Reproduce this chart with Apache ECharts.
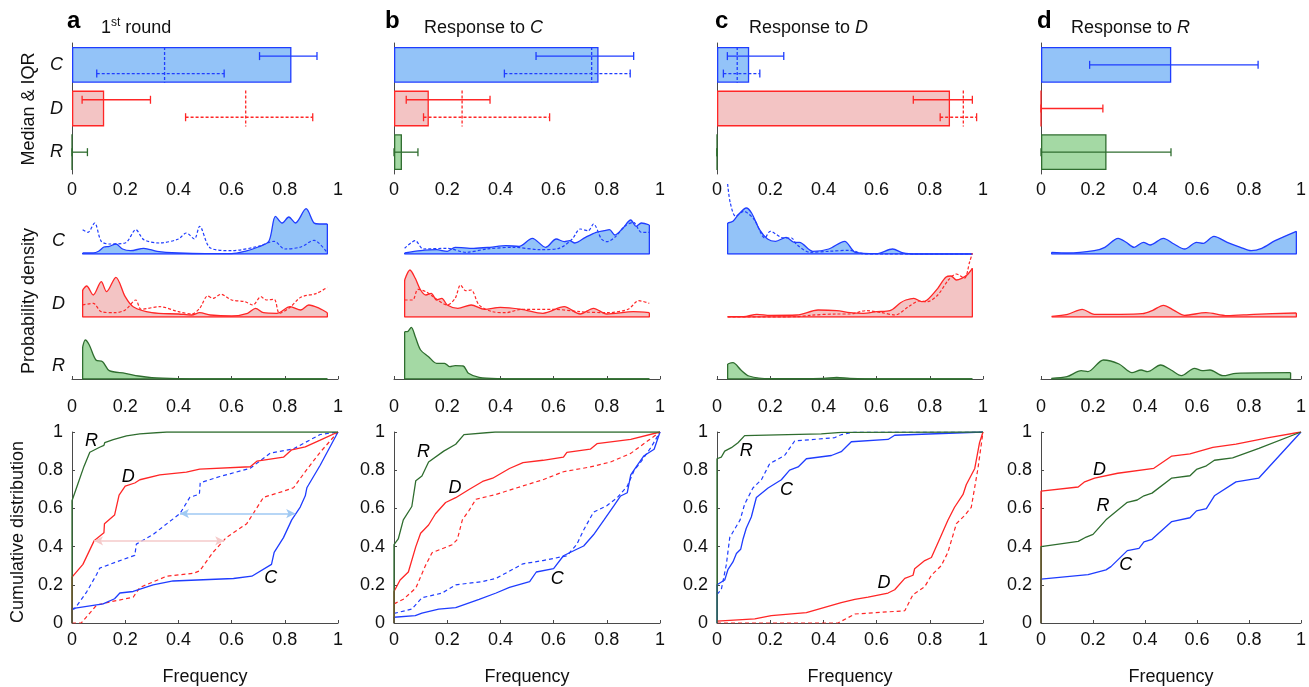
<!DOCTYPE html>
<html>
<head>
<meta charset="utf-8">
<script src="https://cdn.jsdelivr.net/npm/echarts@6/dist/echarts.min.js"></script>
<style>
html, body { margin: 0; padding: 0; background: #fff; }
#chart { width: 1309px; height: 687px; }
</style>
</head>
<body>
<div id="chart"></div>
<script>
// categories & colours
const cats = ['C', 'D', 'R']
const panelLetters = ['a', 'b', 'c', 'd']
const panelTitles = ['{n|1}{s|st}{n| round}', '{n|Response to }{i|C}', '{n|Response to }{i|D}', '{n|Response to }{i|R}']
const lineColors = ['#1f3dff', '#ff2626', '#2f6d2f']
const fillColors = ['#93c3f8', '#f3c4c4', '#a4d9a4']

// row 1: median & IQR (one inner array per panel, order C, D, R)
const medianSolid = [[0.825, 0.121, 0], [0.769, 0.131, 0.03], [0.121, 0.876, 0], [0.501, 0, 0.252]]
const iqrSolid = [
    [[0.705, 0.921], [0.038, 0.295], [0, 0.058]],
    [[0.534, 0.901], [0.046, 0.361], [0, 0.09]],
    [[0.039, 0.251], [0.738, 0.96], [0, 0]],
    [[0.187, 0.835], [0, 0.238], [0, 0.5]],
]
const medianDashed = [[0.348, 0.653, null], [0.743, 0.256, null], [0.076, 0.926, null], [null, null, null]]
const iqrDashed = [
    [[0.093, 0.572], [0.427, 0.905], null],
    [[0.415, 0.888], [0.111, 0.585], null],
    [[0.024, 0.161], [0.839, 0.976], null],
    [null, null, null],
]

// row 2: probability density [frequency, density]
const dA_C = [[0.04,1],[0.08,1],[0.1,2.7],[0.12,7],[0.14,7.7],[0.165,10],[0.19,5],[0.22,3.3],[0.27,5.7],[0.32,2.7],[0.4,1],[0.5,0.3],[0.6,0.3],[0.65,2.7],[0.7,7],[0.74,12.7],[0.765,37.7],[0.79,31],[0.815,37],[0.84,31],[0.88,45.3],[0.91,31],[0.93,30],[0.96,30]]
const dA_Cd = [[0.04,24.3],[0.06,21.7],[0.085,31],[0.11,12.7],[0.14,10],[0.2,11],[0.24,24.3],[0.27,14.3],[0.33,11],[0.4,15],[0.43,21],[0.46,15],[0.48,27.7],[0.52,6],[0.6,3.3],[0.7,7.7],[0.76,12.7],[0.8,5],[0.86,7],[0.91,13.7],[0.96,1]]
const dA_D = [[0.04,27],[0.055,31],[0.08,22],[0.11,35.3],[0.13,25.3],[0.165,39.7],[0.2,20.3],[0.23,10.3],[0.3,4.3],[0.4,3],[0.45,2],[0.48,4.3],[0.52,2],[0.6,1],[0.66,3.7],[0.69,8.7],[0.72,4.3],[0.77,3.7],[0.82,10.3],[0.86,7],[0.89,12],[0.93,8.7],[0.96,4.3]]
const dA_Dd = [[0.04,12],[0.08,13.7],[0.11,5.3],[0.16,4.3],[0.2,7],[0.24,17],[0.26,7.7],[0.33,10.3],[0.4,5.3],[0.45,3],[0.48,8.7],[0.51,21],[0.53,18.7],[0.56,22.7],[0.6,17],[0.65,15.3],[0.68,12],[0.71,20.3],[0.73,17],[0.76,17.7],[0.78,3.7],[0.82,9.7],[0.86,19.7],[0.92,23.7],[0.96,29.7]]
const dA_R = [[0.04,32],[0.05,39],[0.065,34],[0.09,19],[0.115,17.3],[0.14,8.3],[0.2,5.7],[0.25,3],[0.3,1.3],[0.4,0.3],[0.5,0],[0.96,0]]

const dB_C = [[0.04,1],[0.1,3.3],[0.16,4.3],[0.2,2.7],[0.23,6.7],[0.3,5.7],[0.36,6.7],[0.42,8.3],[0.47,7.7],[0.52,15.7],[0.57,6.7],[0.61,15],[0.64,12.3],[0.66,13.3],[0.68,11],[0.72,16.7],[0.76,21.7],[0.79,23.3],[0.81,24.3],[0.83,19],[0.86,25.7],[0.89,34],[0.91,27.7],[0.93,31],[0.96,29]]
const dB_Cd = [[0.04,5.7],[0.08,13.3],[0.11,5],[0.2,5.7],[0.27,1.7],[0.35,5],[0.45,6.7],[0.55,4.3],[0.62,5.7],[0.67,15],[0.7,25],[0.73,23.3],[0.75,30],[0.78,15],[0.8,12.3],[0.83,16.7],[0.87,28.3],[0.9,31.7],[0.93,21.7],[0.96,21.7]]
const dB_D = [[0.04,37],[0.06,47],[0.08,38.7],[0.1,27],[0.12,22],[0.14,23.7],[0.16,17],[0.18,18.7],[0.2,12],[0.24,8.7],[0.29,12],[0.34,7.7],[0.4,9.7],[0.48,7.7],[0.56,3.7],[0.64,10.3],[0.7,3],[0.75,8.7],[0.8,3],[0.9,5.3],[0.96,4.3]]
const dB_Dd = [[0.04,17],[0.07,17],[0.09,27.7],[0.12,25.3],[0.15,19.7],[0.2,12],[0.23,18.7],[0.25,32],[0.27,26.3],[0.29,27],[0.32,12],[0.37,5.3],[0.42,4.3],[0.48,7.7],[0.6,7.7],[0.7,5.3],[0.8,4.3],[0.88,7.7],[0.92,16.3],[0.96,13.7]]
const dB_R = [[0.04,47.3],[0.05,47.3],[0.065,51.7],[0.08,42.3],[0.1,29],[0.13,22.3],[0.16,15.7],[0.19,15.7],[0.21,12.3],[0.23,13.3],[0.26,13],[0.28,5.7],[0.32,1.7],[0.4,0.3],[0.5,0],[0.96,0]]

const dC_C = [[0.04,31],[0.06,32.7],[0.08,39.3],[0.11,46],[0.13,41],[0.16,24.3],[0.19,15],[0.22,12.7],[0.26,16.7],[0.29,11.7],[0.31,11.7],[0.36,2.7],[0.42,5],[0.48,12.7],[0.52,1.7],[0.6,0.3],[0.66,5],[0.7,1],[0.75,0],[0.96,0]]
const dC_Cd = [[0.04,70],[0.05,51],[0.07,37.7],[0.1,42.7],[0.14,34.3],[0.18,16],[0.2,22.7],[0.25,16],[0.28,16],[0.3,9.3],[0.35,1.7],[0.42,2.7],[0.5,3.7],[0.55,0.3],[0.6,0],[0.96,0]]
const dC_D = [[0.04,0.3],[0.1,0.3],[0.15,2.7],[0.2,1.7],[0.3,2],[0.38,7],[0.45,6.3],[0.5,4.3],[0.55,3.7],[0.6,5.3],[0.65,6.3],[0.69,14.3],[0.71,17],[0.74,18.7],[0.77,15.3],[0.79,17],[0.83,28.7],[0.86,39.7],[0.88,41],[0.9,37],[0.92,38.7],[0.94,42],[0.96,48.7]]
const dC_Dd = [[0.04,0],[0.3,0.3],[0.35,1.7],[0.45,3],[0.5,3],[0.56,6.3],[0.62,4.3],[0.67,2],[0.72,10.3],[0.76,16],[0.79,15.3],[0.83,22],[0.87,37],[0.9,43],[0.93,38.7],[0.95,55.3],[0.96,63.7]]
const dC_R = [[0.04,15],[0.06,16.3],[0.09,9],[0.12,3],[0.2,0.3],[0.4,0.7],[0.45,1.7],[0.5,0.7],[0.6,0],[0.96,0]]

const dD_C = [[0.04,1.7],[0.1,1],[0.2,3.3],[0.24,6.7],[0.29,15.7],[0.32,11.7],[0.35,6.7],[0.385,11.7],[0.41,9],[0.46,15.7],[0.5,10],[0.54,5],[0.585,11.7],[0.61,10.7],[0.65,17.7],[0.7,11.7],[0.75,6.7],[0.79,3.3],[0.83,5.7],[0.88,13.3],[0.96,22.7]]
const dD_D = [[0.04,0.7],[0.1,2.7],[0.155,7.7],[0.2,2.7],[0.3,2.7],[0.38,3.3],[0.42,6.7],[0.46,11.7],[0.5,6.7],[0.54,1.7],[0.62,4.3],[0.7,1.3],[0.8,2.7],[0.96,4]]
const dD_R = [[0.04,0.7],[0.1,2.3],[0.155,8.3],[0.18,7.3],[0.24,19],[0.3,15],[0.35,6.3],[0.385,9],[0.41,7.3],[0.46,14],[0.5,9],[0.54,3.3],[0.59,10.7],[0.62,8.3],[0.65,9],[0.7,3.3],[0.75,5.7],[0.96,6.3]]

const densSolid = [[dA_C, dA_D, dA_R], [dB_C, dB_D, dB_R], [dC_C, dC_D, dC_R], [dD_C, dD_D, dD_R]]
const densDashed = [[dA_Cd, dA_Dd, null], [dB_Cd, dB_Dd, null], [dC_Cd, dC_Dd, null], [null, null, null]]

// row 3: cumulative distribution [frequency, F]
const cA_C = [[0,0],[0,0.075],[0.117,0.1],[0.16,0.127],[0.18,0.157],[0.23,0.165],[0.305,0.2],[0.38,0.22],[0.607,0.233],[0.676,0.245],[0.75,0.307],[0.76,0.37],[0.795,0.447],[0.826,0.54],[0.858,0.607],[0.877,0.666],[0.883,0.708],[0.933,0.826],[1,1]]
const cA_Cd = [[0,0.07],[0.01,0.075],[0.054,0.16],[0.092,0.253],[0.104,0.287],[0.167,0.32],[0.236,0.354],[0.242,0.413],[0.305,0.464],[0.406,0.573],[0.443,0.658],[0.479,0.675],[0.482,0.734],[0.556,0.767],[0.67,0.81],[0.745,0.889],[0.833,0.912],[0.933,0.987],[1,1]]
const cA_D = [[0,0],[0,0.24],[0.041,0.307],[0.083,0.43],[0.12,0.472],[0.122,0.52],[0.16,0.565],[0.177,0.67],[0.2,0.717],[0.236,0.733],[0.255,0.75],[0.33,0.775],[0.43,0.79],[0.48,0.806],[0.67,0.818],[0.695,0.847],[0.795,0.868],[0.826,0.907],[0.877,0.922],[0.933,0.957],[1,1]]
const cA_Dd = [[0,0],[0.035,0],[0.092,0.093],[0.142,0.11],[0.23,0.135],[0.255,0.186],[0.356,0.245],[0.456,0.26],[0.48,0.273],[0.53,0.37],[0.58,0.447],[0.657,0.52],[0.72,0.658],[0.795,0.69],[0.833,0.708],[0.877,0.793],[0.933,0.894],[1,1]]
const cA_R = [[0,0],[0,0.64],[0.02,0.72],[0.045,0.82],[0.067,0.894],[0.104,0.92],[0.12,0.93],[0.123,0.944],[0.155,0.96],[0.205,0.98],[0.255,0.99],[0.356,1],[1,1]]

const cB_C = [[0,0],[0,0.03],[0.08,0.039],[0.105,0.052],[0.168,0.073],[0.232,0.081],[0.32,0.124],[0.384,0.157],[0.434,0.186],[0.51,0.217],[0.535,0.267],[0.6,0.285],[0.637,0.352],[0.687,0.386],[0.713,0.403],[0.75,0.462],[0.789,0.538],[0.827,0.614],[0.852,0.665],[0.877,0.682],[0.89,0.775],[0.915,0.826],[0.94,0.876],[0.978,0.91],[1,1]]
const cB_Cd = [[0,0.05],[0.067,0.073],[0.105,0.132],[0.181,0.157],[0.232,0.2],[0.333,0.217],[0.384,0.234],[0.485,0.31],[0.56,0.327],[0.65,0.352],[0.687,0.411],[0.713,0.487],[0.75,0.58],[0.8,0.614],[0.839,0.656],[0.877,0.716],[0.903,0.8],[0.928,0.843],[0.966,0.919],[1,1]]
const cB_D = [[0,0],[0,0.165],[0.023,0.225],[0.054,0.267],[0.082,0.4],[0.1,0.47],[0.13,0.513],[0.156,0.572],[0.194,0.631],[0.232,0.656],[0.282,0.699],[0.333,0.741],[0.371,0.758],[0.434,0.809],[0.485,0.84],[0.56,0.852],[0.637,0.868],[0.65,0.893],[0.738,0.91],[0.763,0.939],[0.89,0.961],[1,1]]
const cB_Dd = [[0,0.1],[0.035,0.124],[0.082,0.183],[0.118,0.3],[0.143,0.368],[0.219,0.41],[0.238,0.437],[0.257,0.54],[0.282,0.589],[0.308,0.648],[0.384,0.673],[0.46,0.707],[0.56,0.75],[0.637,0.792],[0.738,0.817],[0.814,0.843],[0.89,0.888],[0.953,0.953],[1,1]]
const cB_R = [[0,0],[0,0.41],[0.016,0.44],[0.035,0.54],[0.067,0.61],[0.082,0.745],[0.105,0.77],[0.13,0.843],[0.187,0.9],[0.232,0.936],[0.263,0.986],[0.38,1],[1,1]]

const cC_C = [[0,0],[0,0.2],[0.029,0.225],[0.041,0.279],[0.06,0.32],[0.073,0.364],[0.089,0.386],[0.098,0.44],[0.11,0.496],[0.129,0.555],[0.148,0.657],[0.192,0.707],[0.242,0.75],[0.273,0.8],[0.305,0.817],[0.336,0.86],[0.43,0.877],[0.467,0.897],[0.505,0.949],[0.643,0.961],[0.668,0.983],[1,1]]
const cC_Cd = [[0,0.15],[0.016,0.174],[0.035,0.305],[0.048,0.448],[0.087,0.54],[0.104,0.623],[0.135,0.707],[0.167,0.75],[0.198,0.834],[0.254,0.877],[0.292,0.953],[0.442,0.97],[0.467,0.986],[0.518,1],[1,1]]
const cC_D = [[0,0.01],[0.142,0.022],[0.204,0.039],[0.336,0.054],[0.467,0.107],[0.518,0.124],[0.568,0.135],[0.643,0.157],[0.668,0.174],[0.706,0.234],[0.737,0.25],[0.743,0.284],[0.781,0.327],[0.806,0.343],[0.837,0.44],[0.868,0.538],[0.893,0.606],[0.925,0.673],[0.937,0.724],[0.969,0.809],[0.987,0.944],[1,1]]
const cC_Dd = [[0,0],[0.455,0],[0.518,0.047],[0.706,0.064],[0.737,0.149],[0.781,0.19],[0.806,0.25],[0.843,0.3],[0.868,0.37],[0.9,0.52],[0.931,0.563],[0.956,0.606],[0.981,0.809],[1,1]]
const cC_R = [[0,0],[0,0.86],[0.016,0.868],[0.029,0.9],[0.054,0.918],[0.079,0.944],[0.104,0.981],[0.267,0.986],[0.392,0.99],[0.467,0.998],[1,1]]

const cD_C = [[0,0],[0,0.23],[0.181,0.253],[0.25,0.278],[0.269,0.295],[0.332,0.379],[0.377,0.391],[0.396,0.425],[0.427,0.438],[0.503,0.531],[0.573,0.551],[0.598,0.587],[0.636,0.599],[0.667,0.666],[0.75,0.739],[0.838,0.759],[1,1]]
const cD_D = [[0,0],[0,0.69],[0.143,0.712],[0.168,0.739],[0.206,0.759],[0.295,0.784],[0.434,0.81],[0.503,0.874],[0.573,0.885],[0.661,0.919],[0.75,0.936],[0.876,0.97],[1,1]]
const cD_R = [[0,0],[0,0.4],[0.143,0.427],[0.174,0.45],[0.2,0.464],[0.25,0.54],[0.332,0.632],[0.37,0.644],[0.396,0.666],[0.427,0.68],[0.503,0.759],[0.573,0.771],[0.598,0.804],[0.636,0.823],[0.667,0.852],[0.737,0.865],[0.838,0.914],[1,1]]

const cdfSolid = [[cA_C, cA_D, cA_R], [cB_C, cB_D, cB_R], [cC_C, cC_D, cC_R], [cD_C, cD_D, cD_R]]
const cdfDashed = [[cA_Cd, cA_Dd, null], [cB_Cd, cB_Dd, null], [cC_Cd, cC_Dd, null], [null, null, null]]
// where the C / D / R names sit on each cdf panel
const cdfLabelPos = [
    [[0.747, 0.233], [0.211, 0.767], [0.073, 0.953]],
    [[0.614, 0.23], [0.229, 0.707], [0.111, 0.893]],
    [[0.261, 0.694], [0.628, 0.208], [0.11, 0.902]],
    [[0.326, 0.304], [0.225, 0.801], [0.238, 0.612]],
]
// shift arrows in panel a: [from, to, level]
const arrowsA = [[0.406, 0.839, 0.573], [0.083, 0.572, 0.43]]
const arrowColors = ['#9fc9f3', '#f5caca']

// layout
const font = 'Liberation Sans'
const colX = [72, 394, 717, 1041]
const colW = 266
const letterX = [67, 385, 715, 1037]
const titleX = [101, 424, 749, 1071]
const barTop = 43, barH = 131
const densBase = [254, 317, 379], densH = 50
const cdfTop = 432, cdfH = 198
const axisColor = '#4a4a4a'

const axisLine = { lineStyle: { color: axisColor, width: 1 } }
const axisTick = { inside: true, length: 3, lineStyle: { color: axisColor } }
const labelStyle = (margin) => ({ color: '#111', fontSize: 18, fontFamily: font, margin })

const grids = [], xAxes = [], yAxes = [], series = [], graphics = []
const addGrid = (left, top, height) => {
    grids.push({ left, top, width: colW, height })
    return grids.length - 1
}
const freqAxis = (g, extra) =>
    Object.assign(
        { gridIndex: g, type: 'value', min: 0, max: 1, interval: 0.2, axisLine, axisTick, splitLine: { show: false }, axisLabel: labelStyle(7) },
        extra
    )

// error bar drawing
const iqrRender = (dashed, paired) => (params, api) => {
    const i = api.value(1)
    const band = api.size([0, 1])[1]
    const shift = paired[i] ? (dashed ? 0.2 : -0.2) * band : 0
    const y = api.coord([0, i])[1] + shift
    const xa = api.coord([api.value(0), i])[0]
    const xb = api.coord([api.value(2), i])[0]
    const stroke = lineColors[i]
    return {
        type: 'group',
        children: [
            { type: 'line', shape: { x1: xa, y1: y, x2: xb, y2: y }, style: { stroke, lineWidth: 1.3, lineDash: dashed ? [3, 2] : null } },
            { type: 'line', shape: { x1: xa, y1: y - 4, x2: xa, y2: y + 4 }, style: { stroke, lineWidth: 1.3 } },
            { type: 'line', shape: { x1: xb, y1: y - 4, x2: xb, y2: y + 4 }, style: { stroke, lineWidth: 1.3 } },
        ],
    }
}
const medianRender = (params, api) => {
    const i = api.value(1)
    const band = api.size([0, 1])[1]
    const p = api.coord([api.value(0), i])
    return {
        type: 'line',
        shape: { x1: p[0], y1: p[1] - 0.41 * band, x2: p[0], y2: p[1] + 0.41 * band },
        style: { stroke: lineColors[i], lineWidth: 1.3, lineDash: [3, 2] },
    }
}

for (let p = 0; p < 4; p++) {
    // ---- median & IQR
    let g = addGrid(colX[p], barTop, barH)
    xAxes.push(freqAxis(g))
    yAxes.push({
        gridIndex: g, type: 'category', data: cats, inverse: true, axisLine, axisTick: { show: false },
        axisLabel: Object.assign(labelStyle(9), { show: p === 0, fontStyle: 'italic' }),
    })
    const paired = iqrDashed[p].map((d) => d !== null)
    series.push({
        type: 'bar', xAxisIndex: g, yAxisIndex: g, barCategoryGap: '18%', silent: true, z: 2,
        data: medianSolid[p].map((v, i) => ({ value: v, itemStyle: { color: fillColors[i], borderColor: lineColors[i], borderWidth: 1.3 } })),
    })
    series.push({
        type: 'custom', xAxisIndex: g, yAxisIndex: g, silent: true, z: 5, encode: { x: [0, 2], y: 1 },
        renderItem: iqrRender(false, paired), data: iqrSolid[p].map((r, i) => [r[0], i, r[1]]),
    })
    series.push({
        type: 'custom', xAxisIndex: g, yAxisIndex: g, silent: true, z: 5, encode: { x: [0, 2], y: 1 },
        renderItem: iqrRender(true, paired),
        data: iqrDashed[p].map((r, i) => (r ? [r[0], i, r[1]] : null)).filter((d) => d),
    })
    series.push({
        type: 'custom', xAxisIndex: g, yAxisIndex: g, silent: true, z: 5, encode: { x: 0, y: 1 },
        renderItem: medianRender,
        data: medianDashed[p].map((v, i) => (v !== null ? [v, i] : null)).filter((d) => d),
    })

    // ---- probability density tracks
    for (let k = 0; k < 3; k++) {
        g = addGrid(colX[p], densBase[k] - densH, densH)
        xAxes.push(freqAxis(g, { show: k === 2, offset: 11, axisLabel: labelStyle(8) }))
        yAxes.push({ gridIndex: g, type: 'value', min: 0, max: densH, show: false })
        const curve = densSolid[p][k]
        const first = curve[0], last = curve[curve.length - 1]
        series.push({
            type: 'line', xAxisIndex: g, yAxisIndex: g, data: curve, smooth: 0.3, symbol: 'none', clip: false, silent: true,
            lineStyle: { color: lineColors[k], width: 1.3 }, areaStyle: { color: fillColors[k], opacity: 1 },
        })
        series.push({
            type: 'line', xAxisIndex: g, yAxisIndex: g, symbol: 'none', silent: true,
            data: [last, [last[0], 0], [first[0], 0], first], lineStyle: { color: lineColors[k], width: 1.3 },
        })
        if (densDashed[p][k]) {
            series.push({
                type: 'line', xAxisIndex: g, yAxisIndex: g, data: densDashed[p][k], smooth: 0.3, symbol: 'none', clip: false, silent: true,
                lineStyle: { color: lineColors[k], width: 1.2, type: [3, 2] },
            })
        }
    }

    // ---- cumulative distribution
    g = addGrid(colX[p], cdfTop, cdfH)
    xAxes.push(freqAxis(g, {
        axisLabel: labelStyle(8), name: 'Frequency', nameLocation: 'middle', nameGap: 45,
        nameTextStyle: { fontSize: 18, color: '#111', fontFamily: font },
    }))
    yAxes.push({
        gridIndex: g, type: 'value', min: 0, max: 1, interval: 0.2, axisLine, axisTick,
        splitLine: { show: false }, axisLabel: labelStyle(9),
    })
    for (let k = 0; k < 3; k++) {
        if (cdfDashed[p][k]) {
            series.push({
                type: 'line', xAxisIndex: g, yAxisIndex: g, data: cdfDashed[p][k], symbol: 'none', silent: true,
                lineStyle: { color: lineColors[k], width: 1.2, type: [4, 3] },
            })
        }
    }
    for (let k = 0; k < 3; k++) {
        series.push({
            type: 'line', xAxisIndex: g, yAxisIndex: g, data: cdfSolid[p][k], symbol: 'none', silent: true,
            lineStyle: { color: lineColors[k], width: 1.3 },
        })
    }
    const labelSeries = {
        type: 'scatter', xAxisIndex: g, yAxisIndex: g, symbolSize: 0, silent: true,
        itemStyle: { opacity: 1 },
        data: cats.map((c, k) => ({ name: c, value: cdfLabelPos[p][k] })),
        label: {
            show: true, position: 'inside', formatter: '{b}', fontSize: 18, fontStyle: 'italic',
            color: '#000', opacity: 1, fontFamily: font,
        },
    }
    if (p === 0) {
        labelSeries.markLine = {
            silent: true, symbol: ['arrow', 'arrow'], symbolSize: [7, 9], label: { show: false },
            data: arrowsA.map((a, j) => [
                { coord: [a[0], a[2]], lineStyle: { color: arrowColors[j], width: 1.5, type: 'solid', opacity: 1 } },
                { coord: [a[1], a[2]] },
            ]),
        }
    }
    series.push(labelSeries)

    // ---- panel letter + title
    graphics.push({
        type: 'text', x: letterX[p], y: 21,
        style: { text: panelLetters[p], font: 'bold 24px "Liberation Sans"', fill: '#000', verticalAlign: 'middle' },
    })
    graphics.push({
        type: 'text', x: titleX[p], y: 28,
        style: {
            text: panelTitles[p], verticalAlign: 'middle', fill: '#111',
            rich: {
                n: { fontSize: 18, fontFamily: font, lineHeight: 22, fill: '#111' },
                i: { fontSize: 18, fontFamily: font, fontStyle: 'italic', lineHeight: 22, fill: '#111' },
                s: { fontSize: 12, fontFamily: font, lineHeight: 12, verticalAlign: 'top', fill: '#111' },
            },
        },
    })
}

// row names
const rowNames = [['Median & IQR', 29, 109], ['Probability density', 29, 301], ['Cumulative distribution', 18, 532]]
rowNames.forEach((r) => {
    graphics.push({
        type: 'text', x: r[1], y: r[2], rotation: Math.PI / 2,
        style: { text: r[0], fontSize: 18, fontFamily: font, fill: '#111', align: 'center', verticalAlign: 'middle' },
    })
})
// C / D / R names on density tracks
cats.forEach((c, k) => {
    graphics.push({
        type: 'text', x: colX[0] - 7, y: densBase[k] - 13,
        style: { text: c, fontSize: 18, fontFamily: font, fontStyle: 'italic', fill: '#111', align: 'right', verticalAlign: 'middle' },
    })
})

const chart = echarts.init(document.getElementById('chart'), null, { renderer: 'canvas' })
chart.setOption({
    animation: false,
    backgroundColor: '#fff',
    textStyle: { fontFamily: font },
    grid: grids,
    xAxis: xAxes,
    yAxis: yAxes,
    series,
    graphic: graphics,
})
</script>
</body>
</html>
